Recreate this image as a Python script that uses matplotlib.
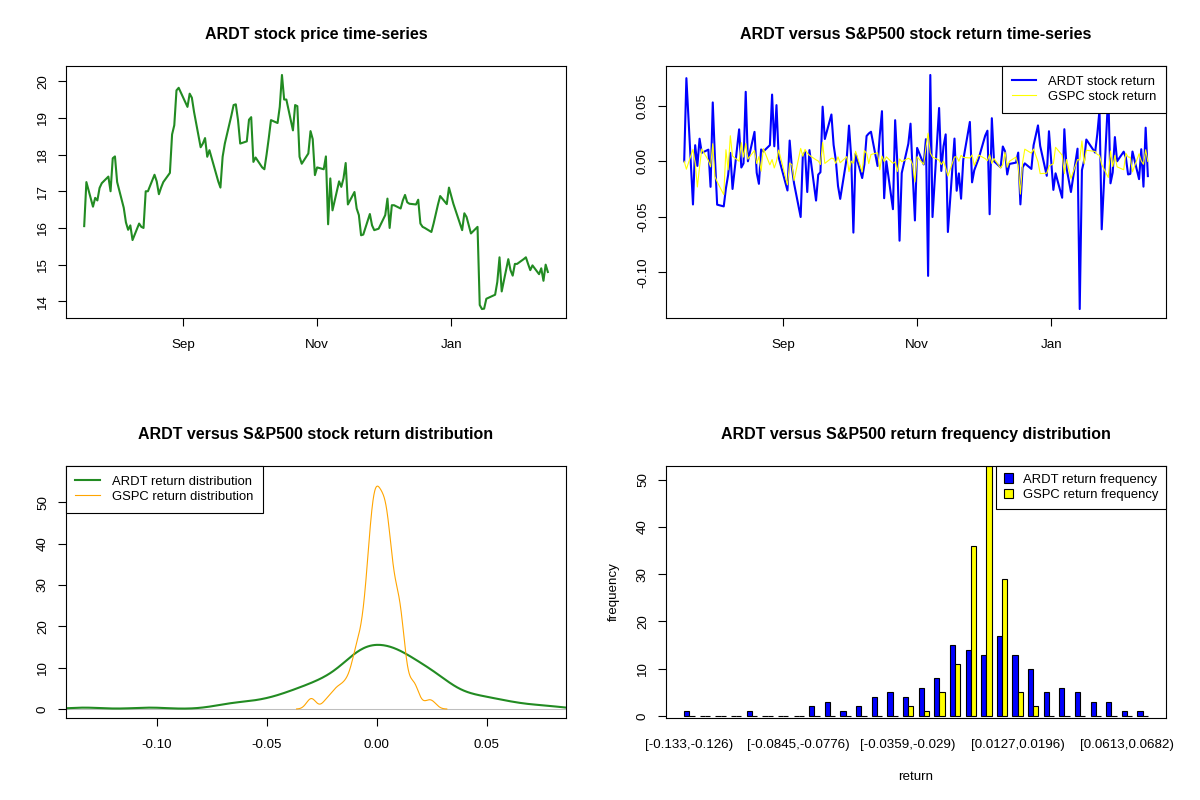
import numpy as np
import pandas as pd
import matplotlib
matplotlib.use('Agg')
import matplotlib.pyplot as plt
import matplotlib.dates as mdates
from matplotlib.ticker import MultipleLocator, FormatStrFormatter
from matplotlib.patches import Patch

plt.rcParams['font.family'] = ['Liberation Sans', 'DejaVu Sans']
plt.rcParams['axes.unicode_minus'] = False

# trading days 2024-07-18 .. 2025-02-14 (US market holidays removed)
holidays = ['2024-09-02', '2024-11-28', '2024-12-25', '2025-01-01', '2025-01-09', '2025-01-20']
dates = pd.bdate_range('2024-07-18', '2025-02-14')
dates = dates[~dates.isin(pd.to_datetime(holidays))]

# ARDT closing prices
ardt_price = [
    16.05, 17.25, 16.58, 16.82, 16.75, 17.09, 17.22, 17.40, 17.00, 17.90,
    17.95, 17.25, 16.55, 16.15, 15.95, 16.07, 15.67, 16.12, 16.03, 16.00,
    17.00, 17.00, 17.45, 17.27, 16.92, 17.10, 17.25, 17.50, 18.55, 18.80,
    19.75, 19.82, 19.30, 19.66, 19.55, 19.16, 18.20, 18.30, 18.45, 17.94,
    18.12, 17.48, 17.27, 17.10, 17.94, 18.30, 19.07, 19.35, 19.37, 18.94,
    18.30, 18.36, 18.95, 19.02, 17.80, 17.92, 17.65, 17.60, 18.00, 18.45,
    18.94, 18.86, 19.30, 20.17, 19.50, 19.50, 18.66, 19.35, 19.32, 17.94,
    17.75, 18.03, 18.64, 18.42, 17.44, 17.65, 17.60, 17.95, 16.10, 17.35,
    16.48, 17.27, 17.12, 17.35, 17.77, 16.64, 16.98, 16.53, 16.35, 15.80,
    15.82, 16.38, 16.07, 15.94, 15.98, 16.35, 16.80, 16.00, 16.62, 16.62,
    16.53, 16.75, 16.90, 16.70, 16.66, 16.64, 16.77, 16.12, 16.03, 16.00,
    15.89, 16.12, 16.64, 16.87, 16.65, 17.10, 16.66, 16.48, 15.94, 16.40,
    16.30, 15.85, 16.03, 13.90, 13.79, 13.80, 14.07, 14.18, 14.53, 15.20,
    14.27, 15.15, 14.85, 14.70, 15.02, 15.02, 15.15, 15.20, 15.02, 14.85,
    14.98, 14.74, 14.90, 14.56, 15.00, 14.80,
]

# S&P500 (GSPC) daily returns
gspc_return = [
    0.0000, -0.0071, 0.0108, -0.0016, -0.0231, -0.0051, 0.0111, 0.0008, -0.0050, 0.0158,
    -0.0137, -0.0184, -0.0300, 0.0104, -0.0077, 0.0230, 0.0047, 0.0000, 0.0168, 0.0038,
    0.0161, 0.0020, 0.0097, -0.0020, 0.0042, -0.0089, 0.0115, -0.0032, 0.0016, -0.0060,
    0.0000, 0.0101, -0.0212, -0.0016, -0.0030, -0.0173, 0.0116, 0.0045, 0.0107, 0.0075,
    0.0054, 0.0013, 0.0003, -0.0029, 0.0170, -0.0019, 0.0028, 0.0025, -0.0019, 0.0040,
    -0.0013, 0.0042, -0.0093, 0.0001, -0.0017, 0.0090, -0.0096, 0.0097, 0.0071, -0.0021,
    0.0061, 0.0077, -0.0076, 0.0047, -0.0002, 0.0040, -0.0018, -0.0005, -0.0092, 0.0021,
    -0.0003, 0.0027, 0.0016, -0.0033, -0.0186, 0.0041, -0.0028, 0.0123, 0.0253, 0.0074,
    0.0038, 0.0010, -0.0029, 0.0002, -0.0060, -0.0132, 0.0039, 0.0040, 0.0000, 0.0053,
    0.0035, 0.0030, 0.0057, -0.0038, 0.0056, 0.0024, 0.0005, 0.0061, -0.0019, 0.0025,
    -0.0061, -0.0030, 0.0082, -0.0054, 0.0000, 0.0038, -0.0039, -0.0295, -0.0009, 0.0109,
    0.0073, 0.0110, -0.0004, -0.0111, -0.0107, -0.0043, -0.0022, 0.0126, 0.0055, -0.0111,
    0.0016, -0.0154, 0.0016, 0.0011, 0.0183, -0.0021, 0.0100, 0.0088, 0.0061, 0.0053,
    -0.0029, -0.0146, 0.0092, -0.0047, 0.0053, -0.0050, -0.0076, 0.0072, 0.0039, 0.0036,
    -0.0095, 0.0067, 0.0003, -0.0027, 0.0104, -0.0001,
]

# return frequency per bin (30 bins)
hist_ardt = [1, 0, 0, 0, 1, 0, 0, 0, 2, 3, 1, 2, 4, 5, 4, 6, 8, 15, 14, 13,
             17, 13, 10, 5, 6, 5, 3, 3, 1, 1]
hist_gspc = [0, 0, 0, 0, 0, 0, 0, 0, 0, 0, 0, 0, 0, 0, 2, 1, 5, 11, 36, 53,
             29, 5, 2, 0, 0, 0, 0, 0, 0, 0]
hist_labels = ['[-0.133,-0.126)', '[-0.0845,-0.0776)', '[-0.0359,-0.029)',
               '[0.0127,0.0196)', '[0.0613,0.0682)']
hist_label_bins = [0, 7, 14, 21, 28]

ardt_return = pd.Series(ardt_price).pct_change().fillna(0).values
gspc_return = np.array(gspc_return)

GREEN = '#228B22'
FS = 9.4


def pad4(lo, hi):
    r = hi - lo
    return lo - 0.04 * r, hi + 0.04 * r


def r_density(x, n=512, cut=3):
    # same as R density(): gaussian kernel, bw.nrd0
    x = np.asarray(x, dtype=float)
    q75, q25 = np.percentile(x, [75, 25])
    bw = 0.9 * min(np.std(x, ddof=1), (q75 - q25) / 1.34) * len(x) ** -0.2
    grid = np.linspace(x.min() - cut * bw, x.max() + cut * bw, n)
    k = np.exp(-0.5 * ((grid[:, None] - x[None, :]) / bw) ** 2)
    return grid, k.sum(axis=1) / (len(x) * bw * np.sqrt(2 * np.pi))


def r_style(ax, title):
    for s in ax.spines.values():
        s.set_linewidth(0.8)
    ax.tick_params(direction='out', length=6, width=0.8, labelsize=9.6)
    ax.tick_params(axis='x', pad=8.5)
    ax.tick_params(axis='y', pad=6)
    ax.set_title(title, fontsize=11.5, fontweight='bold', pad=19)


def rot_y(ax, fmt):
    ticks = [t for t in ax.get_yticks() if ax.get_ylim()[0] <= t <= ax.get_ylim()[1]]
    ax.set_yticks(ticks)
    ax.set_yticklabels([fmt % t for t in ticks], rotation=90, va='center')


def r_legend(ax, loc, handles=None, labels=None, **kw):
    if handles is None:
        leg = ax.legend(loc=loc, fontsize=FS, borderaxespad=0, fancybox=False,
                        framealpha=1, edgecolor='black', handlelength=1.9,
                        handletextpad=0.9, borderpad=0.75, labelspacing=0.25, **kw)
    else:
        leg = ax.legend(handles, labels, loc=loc, fontsize=FS, borderaxespad=0,
                        fancybox=False, framealpha=1, edgecolor='black',
                        labelspacing=0.25, **kw)
    leg.get_frame().set_linewidth(0.8)
    leg.set_zorder(5)
    return leg


fig = plt.figure(figsize=(12, 8), dpi=100)
left_x, right_x, top_y, bot_y = 0.0547, 0.5547, 0.602, 0.102
w, h = 0.4173, 0.316

span = dates[-1] - dates[0]
date_lim = (dates[0] - 0.04 * span, dates[-1] + 0.04 * span)

# price time-series
ax1 = fig.add_axes([left_x, top_y, w, h])
ax1.plot(dates, ardt_price, color=GREEN, lw=1.5)
ax1.set_xlim(date_lim)
ax1.set_ylim(*pad4(min(ardt_price), max(ardt_price)))
ax1.xaxis.set_major_locator(mdates.MonthLocator(bymonth=[1, 3, 5, 7, 9, 11]))
ax1.xaxis.set_major_formatter(mdates.DateFormatter('%b'))
ax1.yaxis.set_major_locator(MultipleLocator(1))
r_style(ax1, 'ARDT stock price time-series')
rot_y(ax1, '%d')

# return time-series
ax2 = fig.add_axes([right_x, top_y, w, h])
ax2.plot(dates, ardt_return, color='blue', lw=1.5, label='ARDT stock return')
ax2.plot(dates, gspc_return, color='yellow', lw=0.8, label='GSPC stock return')
ax2.set_xlim(date_lim)
ax2.set_ylim(*pad4(ardt_return.min(), ardt_return.max()))
ax2.xaxis.set_major_locator(mdates.MonthLocator(bymonth=[1, 3, 5, 7, 9, 11]))
ax2.xaxis.set_major_formatter(mdates.DateFormatter('%b'))
ax2.yaxis.set_major_locator(MultipleLocator(0.05))
r_style(ax2, 'ARDT versus S&P500 stock return time-series')
rot_y(ax2, '%.2f')
r_legend(ax2, 'upper right')

# return densities
ax3 = fig.add_axes([left_x, bot_y, w, h])
gx_a, gy_a = r_density(ardt_return)
gx_g, gy_g = r_density(gspc_return)
ax3.axhline(0, color='#BEBEBE', lw=0.75, zorder=1)
ax3.plot(gx_a, gy_a, color=GREEN, lw=1.5, label='ARDT return distribution')
ax3.plot(gx_g, gy_g, color='orange', lw=0.8, label='GSPC return distribution')
ax3.set_xlim(*pad4(ardt_return.min(), ardt_return.max()))
ax3.set_ylim(*pad4(0, gy_g.max() * 1.05))
ax3.xaxis.set_major_locator(MultipleLocator(0.05))
ax3.xaxis.set_major_formatter(FormatStrFormatter('%.2f'))
ax3.yaxis.set_major_locator(MultipleLocator(10))
r_style(ax3, 'ARDT versus S&P500 stock return distribution')
rot_y(ax3, '%d')
r_legend(ax3, 'upper left')

# return frequency barplot
ax4 = fig.add_axes([right_x, bot_y, w, h])
nb = len(hist_ardt)
grp = np.arange(nb) * 3
ax4.bar(grp + 1, hist_ardt, width=1, align='edge', color='blue',
        edgecolor='black', linewidth=0.8)
ax4.bar(grp + 2, hist_gspc, width=1, align='edge', color='yellow',
        edgecolor='black', linewidth=0.8)
top = max(max(hist_ardt), max(hist_gspc))
ax4.set_xlim(*pad4(1, grp[-1] + 3))
ax4.set_ylim(-0.01 * top, top)
ax4.set_xticks(grp[hist_label_bins] + 2)
ax4.set_xticklabels(hist_labels)
ax4.yaxis.set_major_locator(MultipleLocator(10))
r_style(ax4, 'ARDT versus S&P500 return frequency distribution')
ax4.tick_params(axis='x', length=0, pad=14.5)
rot_y(ax4, '%d')
ax4.set_xlabel('return', fontsize=9.6, labelpad=15)
ax4.set_ylabel('frequency', fontsize=9.6, labelpad=12)
r_legend(ax4, 'upper right',
         handles=[Patch(facecolor='blue', edgecolor='black', lw=0.8),
                  Patch(facecolor='yellow', edgecolor='black', lw=0.8)],
         labels=['ARDT return frequency', 'GSPC return frequency'],
         handlelength=0.7, handleheight=0.7, handletextpad=0.75, borderpad=0.6)

fig.savefig('out.png', dpi=100)
